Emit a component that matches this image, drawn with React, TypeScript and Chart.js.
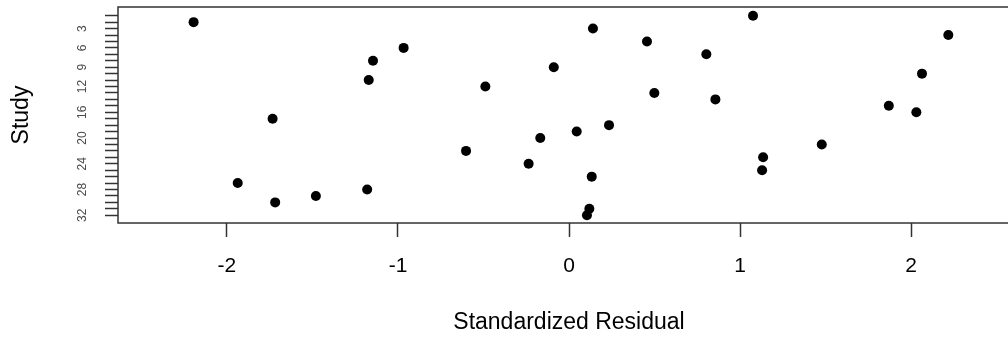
import React, { useEffect, useRef } from "react";
import { Chart, registerables } from "chart.js";

Chart.register(...registerables);

// Standardized residual for each study (study index 1..32)
const studies = Array.from({ length: 32 }, (_, i) => i + 1);
const residuals = [
  1.076, -2.195, 0.14, 2.218, 0.456, -0.967, 0.803, -1.146, -0.089, 2.064,
  -1.171, -0.489, 0.499, 0.856, 1.87, 2.031, -1.733, 0.234, 0.045, -0.168,
  1.478, -0.602, 1.135, -0.236, 1.129, 0.133, -1.937, -1.18, -1.48, -1.718,
  0.119, 0.105,
];
const xTicks = [-2, -1, 0, 1, 2];
const yTickLabels = [3, 6, 9, 12, 16, 20, 24, 28, 32];
const xLimits = [-2.637, 2.637];
const yLimits = [-0.35, 33.2];

const FONT = "'Liberation Sans', Arial, sans-serif";
const LINE = "#333333";

const boxPlugin = {
  id: "rbox",
  beforeDatasetsDraw(chart: any) {
    const { ctx, chartArea } = chart;
    ctx.save();
    ctx.strokeStyle = LINE;
    ctx.lineWidth = 1.5;
    ctx.strokeRect(
      chartArea.left,
      chartArea.top,
      chartArea.right - chartArea.left,
      chartArea.bottom - chartArea.top
    );
    ctx.restore();
  },
};

export default function App() {
  const ref = useRef<HTMLCanvasElement | null>(null);

  useEffect(() => {
    if (!ref.current) return;
    const data = studies.map((s, i) => ({ x: residuals[i], y: s }));
    const chart = new Chart(ref.current, {
      type: "scatter",
      data: {
        datasets: [
          {
            data,
            backgroundColor: "#000000",
            borderColor: "#000000",
            pointRadius: 5,
            borderWidth: 0,
          },
        ],
      },
      options: {
        animation: false,
        responsive: false,
        devicePixelRatio: 1,
        layout: { padding: { left: 0, top: 7, right: 20, bottom: 0 } },
        plugins: {
          legend: { display: false },
          tooltip: { enabled: false },
        },
        scales: {
          x: {
            type: "linear",
            min: xLimits[0],
            max: xLimits[1],
            afterBuildTicks: (scale: any) => {
              scale.ticks = xTicks.map((v) => ({ value: v }));
            },
            afterFit: (scale: any) => {
              scale.height = 114;
              scale.paddingLeft = 0;
              scale.paddingRight = 0;
            },
            ticks: {
              autoSkip: false,
              maxRotation: 0,
              padding: 17,
              color: "#000000",
              font: { family: FONT, size: 21 },
              callback: (v: any) => String(v),
            },
            grid: {
              display: true,
              drawOnChartArea: false,
              drawTicks: true,
              tickLength: 14,
              tickColor: LINE,
              tickWidth: 1.5,
            },
            border: { display: false },
            title: {
              display: true,
              text: "Standardized Residual",
              color: "#000000",
              font: { family: FONT, size: 23 },
              padding: { top: 0, bottom: 1 },
            },
          },
          y: {
            type: "linear",
            reverse: true,
            min: yLimits[0],
            max: yLimits[1],
            afterBuildTicks: (scale: any) => {
              scale.ticks = studies.map((v) => ({ value: v }));
            },
            afterFit: (scale: any) => {
              scale.width = 118;
              scale.paddingTop = 0;
              scale.paddingBottom = 0;
            },
            ticks: {
              autoSkip: false,
              minRotation: 90,
              maxRotation: 90,
              crossAlign: "center",
              padding: 16,
              color: "#4a4a4a",
              font: { family: FONT, size: 12 },
              callback: (v: any) =>
                yTickLabels.includes(Number(v)) ? String(v) : "",
            },
            grid: {
              display: true,
              drawOnChartArea: false,
              drawTicks: true,
              tickLength: 13,
              tickColor: LINE,
              tickWidth: 1.5,
            },
            border: { display: false },
            title: {
              display: true,
              text: "Study",
              color: "#000000",
              font: { family: FONT, size: 23 },
              padding: { top: 8, bottom: 0 },
            },
          },
        },
      },
      plugins: [boxPlugin],
    });
    return () => chart.destroy();
  }, []);

  return (
    <div
      style={{
        position: "fixed",
        left: 0,
        top: 0,
        width: 1008,
        height: 337,
        overflow: "hidden",
        background: "#ffffff",
      }}
    >
      <canvas ref={ref} width={1040} height={337} style={{ display: "block" }} />
    </div>
  );
}
